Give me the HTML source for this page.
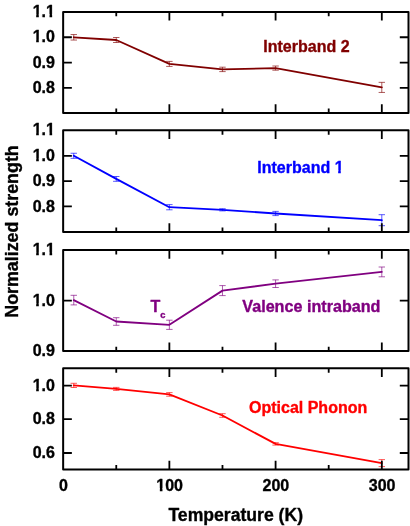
<!DOCTYPE html>
<html><head><meta charset="utf-8"><title>Normalized strength vs Temperature</title>
<style>html,body{margin:0;padding:0;background:#fff}body{width:410px;height:526px;overflow:hidden;font-family:"Liberation Sans",sans-serif}svg{will-change:transform}</style>
</head><body>
<svg width="410" height="526" viewBox="0 0 410 526" style="display:block">
<rect width="410" height="526" fill="#fff"/>
<g font-family="'Liberation Sans', sans-serif" font-weight="bold" font-size="16px" stroke-width="0.35" stroke-linejoin="round">
<polyline points="73.77,37.30 116.26,40.00 169.37,63.90 222.48,69.40 275.59,68.10 381.81,87.40" fill="none" stroke="#800000" stroke-width="1.85" stroke-linejoin="round" stroke-linecap="round"/>
<path d="M73.77,34.55V40.05M70.57,34.55h6.4M70.57,40.05h6.4M116.26,37.50V42.50M113.06,37.50h6.4M113.06,42.50h6.4M169.37,61.40V66.40M166.17,61.40h6.4M166.17,66.40h6.4M222.48,67.20V71.60M219.28,67.20h6.4M219.28,71.60h6.4M275.59,66.00V70.20M272.39,66.00h6.4M272.39,70.20h6.4M381.81,82.35V92.45M378.61,82.35h6.4M378.61,92.45h6.4" fill="none" stroke="#800000" stroke-width="0.9" stroke-opacity="0.72"/>
<path d="M169.37,11.9v8.7M169.37,112.9v-8.7M275.59,11.9v8.7M275.59,112.9v-8.7M381.81,11.9v8.7M381.81,112.9v-8.7M116.26,11.9v4.4M116.26,112.9v-4.4M222.48,11.9v4.4M222.48,112.9v-4.4M328.70,11.9v4.4M328.70,112.9v-4.4M63.15,37.25h8.7M408.5,37.25h-8.7M63.15,62.6h8.7M408.5,62.6h-8.7M63.15,87.9h8.7M408.5,87.9h-8.7" fill="none" stroke="#000" stroke-width="1.8"/>
<rect x="63.15" y="11.9" width="345.35" height="101.00" fill="none" stroke="#000" stroke-width="2.0"/>
<text transform="translate(54.90 17.00)" text-anchor="end" stroke="#000">1.1</text>
<text transform="translate(54.90 42.35)" text-anchor="end" stroke="#000">1.0</text>
<text transform="translate(54.90 67.70)" text-anchor="end" stroke="#000">0.9</text>
<text transform="translate(54.90 93.00)" text-anchor="end" stroke="#000">0.8</text>
<text transform="translate(263.30 51.50)" fill="#800000" stroke="#800000">Interband 2</text>
<polyline points="73.77,155.80 116.26,178.90 169.37,207.20 222.48,209.80 275.59,213.50 381.81,220.20" fill="none" stroke="#0000FF" stroke-width="1.85" stroke-linejoin="round" stroke-linecap="round"/>
<path d="M73.77,153.25V158.35M70.57,153.25h6.4M70.57,158.35h6.4M116.26,176.50V181.30M113.06,176.50h6.4M113.06,181.30h6.4M169.37,204.60V209.80M166.17,204.60h6.4M166.17,209.80h6.4M222.48,208.70V210.90M219.28,208.70h6.4M219.28,210.90h6.4M275.59,211.40V215.60M272.39,211.40h6.4M272.39,215.60h6.4M381.81,214.70V225.70M378.61,214.70h6.4M378.61,225.70h6.4" fill="none" stroke="#0000FF" stroke-width="0.9" stroke-opacity="0.72"/>
<path d="M169.37,130.35v8.7M169.37,232.0v-8.7M275.59,130.35v8.7M275.59,232.0v-8.7M381.81,130.35v8.7M381.81,232.0v-8.7M116.26,130.35v4.4M116.26,232.0v-4.4M222.48,130.35v4.4M222.48,232.0v-4.4M328.70,130.35v4.4M328.70,232.0v-4.4M63.15,155.85h8.7M408.5,155.85h-8.7M63.15,181.1h8.7M408.5,181.1h-8.7M63.15,206.45h8.7M408.5,206.45h-8.7" fill="none" stroke="#000" stroke-width="1.8"/>
<rect x="63.15" y="130.35" width="345.35" height="101.65" fill="none" stroke="#000" stroke-width="2.0"/>
<text transform="translate(54.90 135.45)" text-anchor="end" stroke="#000">1.1</text>
<text transform="translate(54.90 160.95)" text-anchor="end" stroke="#000">1.0</text>
<text transform="translate(54.90 186.20)" text-anchor="end" stroke="#000">0.9</text>
<text transform="translate(54.90 211.55)" text-anchor="end" stroke="#000">0.8</text>
<text transform="translate(257.30 172.70)" fill="#0000FF" stroke="#0000FF">Interband 1</text>
<polyline points="73.77,300.10 116.26,321.50 169.37,324.80 222.48,290.60 275.59,283.70 381.81,271.90" fill="none" stroke="#800080" stroke-width="1.85" stroke-linejoin="round" stroke-linecap="round"/>
<path d="M73.77,295.30V304.90M70.57,295.30h6.4M70.57,304.90h6.4M116.26,317.70V325.30M113.06,317.70h6.4M113.06,325.30h6.4M169.37,320.20V329.40M166.17,320.20h6.4M166.17,329.40h6.4M222.48,285.60V295.60M219.28,285.60h6.4M219.28,295.60h6.4M275.59,279.90V287.50M272.39,279.90h6.4M272.39,287.50h6.4M381.81,267.00V276.80M378.61,267.00h6.4M378.61,276.80h6.4" fill="none" stroke="#800080" stroke-width="0.9" stroke-opacity="0.72"/>
<path d="M169.37,250.0v8.7M169.37,351.1v-8.7M275.59,250.0v8.7M275.59,351.1v-8.7M381.81,250.0v8.7M381.81,351.1v-8.7M116.26,250.0v4.4M116.26,351.1v-4.4M222.48,250.0v4.4M222.48,351.1v-4.4M328.70,250.0v4.4M328.70,351.1v-4.4M63.15,300.6h8.7M408.5,300.6h-8.7" fill="none" stroke="#000" stroke-width="1.8"/>
<rect x="63.15" y="250.0" width="345.35" height="101.10" fill="none" stroke="#000" stroke-width="2.0"/>
<text transform="translate(54.90 255.10)" text-anchor="end" stroke="#000">1.1</text>
<text transform="translate(54.90 305.70)" text-anchor="end" stroke="#000">1.0</text>
<text transform="translate(54.90 356.20)" text-anchor="end" stroke="#000">0.9</text>
<text transform="translate(242.30 311.60)" fill="#800080" stroke="#800080" font-size="16.15px">Valence intraband</text>
<polyline points="73.77,385.40 116.26,388.90 169.37,394.40 222.48,415.50 275.59,443.90 381.81,463.10" fill="none" stroke="#FF0000" stroke-width="1.85" stroke-linejoin="round" stroke-linecap="round"/>
<path d="M73.77,383.30V387.50M70.57,383.30h6.4M70.57,387.50h6.4M116.26,387.40V390.40M113.06,387.40h6.4M113.06,390.40h6.4M169.37,392.60V396.20M166.17,392.60h6.4M166.17,396.20h6.4M222.48,413.70V417.30M219.28,413.70h6.4M219.28,417.30h6.4M275.59,442.70V445.10M272.39,442.70h6.4M272.39,445.10h6.4M381.81,459.60V466.60M378.61,459.60h6.4M378.61,466.60h6.4" fill="none" stroke="#FF0000" stroke-width="0.9" stroke-opacity="0.72"/>
<path d="M169.37,368.35v8.7M169.37,469.4v-8.7M275.59,368.35v8.7M275.59,469.4v-8.7M381.81,368.35v8.7M381.81,469.4v-8.7M116.26,368.35v4.4M116.26,469.4v-4.4M222.48,368.35v4.4M222.48,469.4v-4.4M328.70,368.35v4.4M328.70,469.4v-4.4M63.15,385.7h8.7M408.5,385.7h-8.7M63.15,419.2h8.7M408.5,419.2h-8.7M63.15,453.0h8.7M408.5,453.0h-8.7" fill="none" stroke="#000" stroke-width="1.8"/>
<rect x="63.15" y="368.35" width="345.35" height="101.05" fill="none" stroke="#000" stroke-width="2.0"/>
<text transform="translate(54.90 390.80)" text-anchor="end" stroke="#000">1.0</text>
<text transform="translate(54.90 424.30)" text-anchor="end" stroke="#000">0.8</text>
<text transform="translate(54.90 458.10)" text-anchor="end" stroke="#000">0.6</text>
<text transform="translate(249.00 413.40)" fill="#FF0000" stroke="#FF0000">Optical Phonon</text>
<text transform="translate(150.50 311.80)" fill="#800080" stroke="#800080">T<tspan font-size="9.3px" dy="6.3">c</tspan></text>
<text transform="translate(63.45 491.00)" text-anchor="middle" stroke="#000">0</text>
<text transform="translate(169.67 491.00)" text-anchor="middle" stroke="#000">100</text>
<text transform="translate(275.89 491.00)" text-anchor="middle" stroke="#000">200</text>
<text transform="translate(382.11 491.00)" text-anchor="middle" stroke="#000">300</text>
<text transform="translate(235.70 521.00)" text-anchor="middle" stroke="#000" font-size="17.6px">Temperature (K)</text>
<text transform="translate(18.30 231.50) rotate(-90)" text-anchor="middle" stroke="#000" font-size="17.85px">Normalized strength</text>
</g>
<path d="M32.77,14.37H36.17v3.83H32.77zM38.81,14.37H41.91v3.83H38.81zM46.11,14.37H49.52v3.83H46.11zM52.15,14.37H56.25v3.83H52.15zM32.77,39.72H36.17v3.83H32.77zM38.81,39.72H41.91v3.83H38.81zM32.77,132.82H36.17v3.83H32.77zM38.81,132.82H41.91v3.83H38.81zM46.11,132.82H49.52v3.83H46.11zM52.15,132.82H56.25v3.83H52.15zM32.77,158.32H36.17v3.83H32.77zM38.81,158.32H41.91v3.83H38.81zM334.74,170.07H338.15v3.83H334.74zM340.79,170.07H344.89v3.83H340.79zM32.77,252.47H36.17v3.83H32.77zM38.81,252.47H41.91v3.83H38.81zM46.11,252.47H49.52v3.83H46.11zM52.15,252.47H56.25v3.83H52.15zM32.77,303.07H36.17v3.83H32.77zM38.81,303.07H41.91v3.83H38.81zM32.77,388.17H36.17v3.83H32.77zM38.81,388.17H41.91v3.83H38.81zM156.43,488.37H159.84v3.83H156.43zM162.47,488.37H165.58v3.83H162.47z" fill="#fff"/>
</svg>
</body></html>
